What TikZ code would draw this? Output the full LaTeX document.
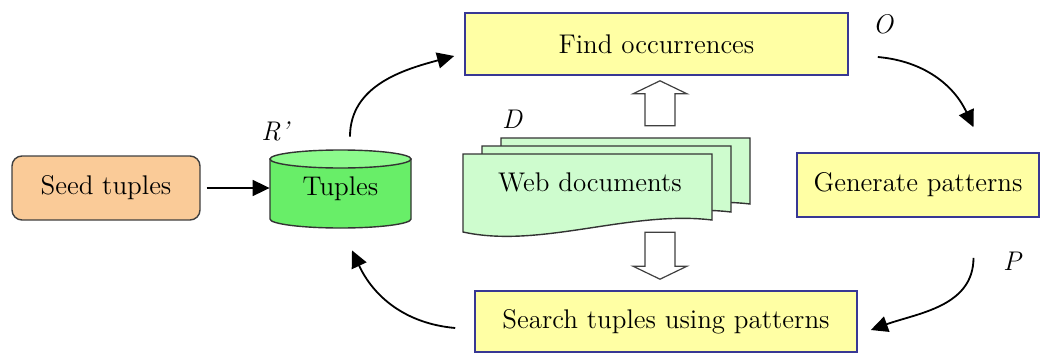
\documentclass[tikz,border=0pt]{standalone}
\usepackage{amsmath,amssymb}
\usepackage{color}
\usepackage{tikz}
\usetikzlibrary{arrows.meta}

\definecolor{seedfill}{RGB}{250,203,152}
\definecolor{tuplesbody}{RGB}{104,238,104}
\definecolor{tuplestop}{RGB}{140,250,140}
\definecolor{stepfill}{RGB}{255,255,164}
\definecolor{stepline}{RGB}{56,56,148}
\definecolor{pagefill}{RGB}{206,252,206}

\tikzset{
  every node/.style={font=\fontsize{13.5}{16}\selectfont},
  stepbox/.style={draw=stepline,fill=stepfill,line width=0.8pt,inner sep=0pt},
  seedbox/.style={draw=black!75,fill=seedfill,line width=0.7pt,rounded corners=5pt,
    minimum width=94pt,minimum height=32pt},
  flow/.style={line width=0.9pt,-{Triangle[length=8.5pt,width=8pt]}},
  hollow/.style={draw=black!75,fill=white,line width=0.6pt,line join=miter},
  page/.style={draw=black!80,fill=pagefill,line width=0.7pt},
  lbl/.style={font=\fontsize{13.5}{16}\selectfont\itshape}
}

\begin{document}
\begin{tikzpicture}[x=0.5pt,y=0.5pt]
\useasboundingbox (0,0) rectangle (1041,-354);

\node[seedbox] (seed) at (106,-188) {Seed tuples};

% the tuple store
\filldraw[draw=black!80,fill=tuplesbody,line width=0.7pt] (270,-159) -- (270,-219)
  arc[start angle=180,end angle=360,x radius=70.5,y radius=9] -- (411,-159) -- cycle;
\filldraw[draw=black!80,fill=tuplestop,line width=0.7pt] (340.5,-159) ellipse[x radius=70.5,y radius=9];
\node[minimum width=70.5pt,minimum height=30pt,inner sep=0pt] (tuples) at (340.5,-189) {Tuples};

% stack of pages
\foreach \dx/\dy in {38/16,19/8,0/0}
  \filldraw[page,shift={(\dx,\dy)}] (463,-154) -- (463,-232)
    .. controls (540,-249) and (630,-210) .. (712,-220) -- (712,-154) -- cycle;
\node (web) at (590,-182) {Web documents};

\node[stepbox,minimum width=191.5pt,minimum height=31pt] (find) at (656.5,-44) {Find occurrences};
\node[stepbox,minimum width=121pt,minimum height=32pt] (gen) at (918,-185) {Generate patterns};
\node[stepbox,minimum width=191pt,minimum height=30.5pt] (search) at (666,-321.5) {Search tuples using patterns};

% block arrows from and to the pages
\draw[hollow] ([shift={(3.5,-5)}]find.south) -- ++(27,-13) -- ++(-12,0) -- ++(0,-32)
  -- ++(-30,0) -- ++(0,32) -- ++(-12,0) -- cycle;
\draw[hollow] ([shift={(-6,11)}]search.north) -- ++(27,13) -- ++(-12,0) -- ++(0,34)
  -- ++(-30,0) -- ++(0,-34) -- ++(-12,0) -- cycle;

% the loop
\draw[flow,shorten <=3pt] (seed.east) -- (tuples.west |- seed.east);
\draw[flow] ([shift={(9.5,22)}]tuples.north) to[out=90,in=195] ([shift={(-10,-12)}]find.west);
\draw[flow] ([shift={(29,-13)}]find.east) to[out=-5,in=115] ([shift={(55.5,25)}]gen.north);
\draw[flow] ([shift={(55.5,-40)}]gen.south) to[out=-90,in=20] ([shift={(13,-8.5)}]search.east);
\draw[flow] ([shift={(-19,-6.5)}]search.west) to[out=175,in=-65] ([shift={(11.5,-31)}]tuples.south);

\node[lbl] (rlabel) at (275,-131) {R'};
\node[lbl] (olabel) at (883,-24) {O};
\node[lbl] (dlabel) at (512,-119) {D};
\node[lbl] (plabel) at (1012,-261) {P};
\end{tikzpicture}
\end{document}
